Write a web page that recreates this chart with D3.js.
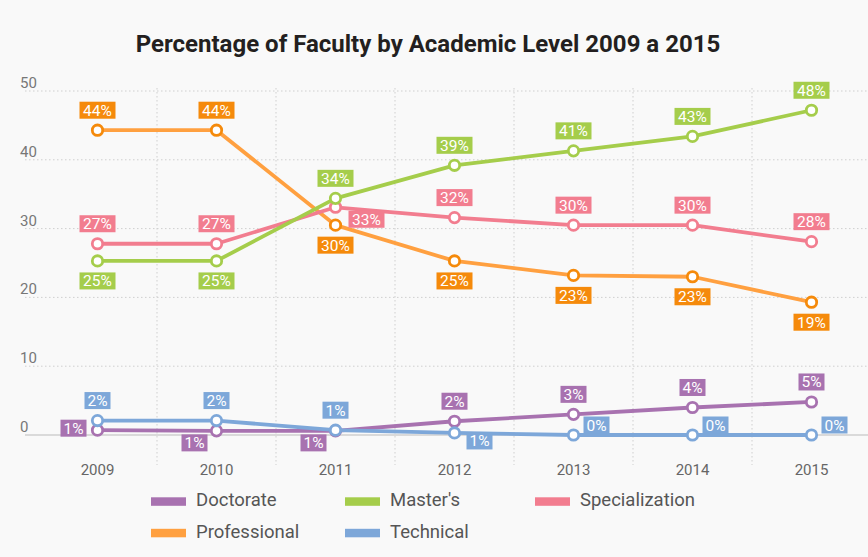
<!DOCTYPE html>
<html><head><meta charset="utf-8">
<script src="https://cdn.jsdelivr.net/npm/d3@7"></script>
<style>
html,body{margin:0;padding:0;background:#f9f9f9;}
svg{display:block;}
</style></head>
<body>
<svg id="chart" width="868" height="557"></svg>
<script>
const years = ["2009","2010","2011","2012","2013","2014","2015"];
const yTicks = [0,10,20,30,40,50];
const seriesNames = ["Doctorate","Master's","Specialization","Professional","Technical"];
const doctorate      = [0.7, 0.6, 0.6, 2.0, 3.0, 4.0, 4.8];
const masters        = [25.3, 25.3, 34.4, 39.2, 41.3, 43.4, 47.2];
const specialization = [27.8, 27.8, 33.1, 31.6, 30.5, 30.5, 28.1];
const professional   = [44.3, 44.3, 30.5, 25.3, 23.2, 23.0, 19.3];
const technical      = [2.1, 2.1, 0.7, 0.3, 0.0, 0.0, 0.0];
const doctorateLabels      = ["1%","1%","1%","2%","3%","4%","5%"];
const mastersLabels        = ["25%","25%","34%","39%","41%","43%","48%"];
const specializationLabels = ["27%","27%","33%","32%","30%","30%","28%"];
const professionalLabels   = ["44%","44%","30%","25%","23%","23%","19%"];
const technicalLabels      = ["2%","2%","1%","1%","0%","0%","0%"];
// label placement (t=above, b=below, l=left, bl=below-left, br=below-right, tr=above-right, r=right)
const doctoratePos      = ["l","bl","bl","t","t","t","t"];
const mastersPos        = ["b","b","t","t","t","t","t"];
const specializationPos = ["t","t","r","t","t","t","t"];
const professionalPos   = ["t","t","b","b","b","b","b"];
const technicalPos      = ["t","t","t","br","tr","tr","tr"];

const series = [
  {name:"Doctorate", values:doctorate, labels:doctorateLabels, pos:doctoratePos, line:"#a872b0", mark:"#a872b0", box:"#a872b0"},
  {name:"Technical", values:technical, labels:technicalLabels, pos:technicalPos, line:"#7da7d9", mark:"#7da7d9", box:"#7da7d9"},
  {name:"Professional", values:professional, labels:professionalLabels, pos:professionalPos, line:"#ffa040", mark:"#f58a0b", box:"#f58a0b"},
  {name:"Specialization", values:specialization, labels:specializationLabels, pos:specializationPos, line:"#f27d8f", mark:"#f27d8f", box:"#f27d8f"},
  {name:"Master's", values:masters, labels:mastersLabels, pos:mastersPos, line:"#a5cd4b", mark:"#a5cd4b", box:"#a5cd4b"}
];
const legendColors = {"Doctorate":"#a872b0","Master's":"#a5cd4b","Specialization":"#f27d8f","Professional":"#ffa040","Technical":"#7da7d9"};

const svg = d3.select("#chart");
const font = "Roboto, 'DejaVu Sans', sans-serif";

const x = d3.scaleBand().domain(years).range([38, 871]);
const y = d3.scaleLinear().domain([0,50]).range([435, 91]);
const cx = d => x(d) + x.bandwidth()/2;

// title
svg.append("text").attr("x", 428).attr("y", 52).attr("text-anchor","middle")
  .attr("font-family", font).attr("font-weight","bold").attr("font-size", 24)
  .attr("fill","#231f20").text("Percentage of Faculty by Academic Level 2009 a 2015");

// horizontal gridlines
const g = svg.append("g");
yTicks.forEach(t => {
  g.append("line").attr("x1",25).attr("x2",868).attr("y1",y(t)).attr("y2",y(t))
   .attr("stroke", "#cfcfcf").attr("stroke-width", t===0?1.5:1)
   .attr("stroke-dasharray", t===0 ? null : "1.5,2.5");
  g.append("text").attr("x",20).attr("y",y(t)-3).attr("font-family",font)
   .attr("font-size",15).attr("fill","#777").text(t);
});
// vertical gridlines at band boundaries
years.slice(1).forEach(yr => {
  g.append("line").attr("x1",x(yr)).attr("x2",x(yr)).attr("y1",88).attr("y2",465)
   .attr("stroke","#cfcfcf").attr("stroke-dasharray","1.5,2.5");
});
// x labels
years.forEach(yr => {
  g.append("text").attr("x",cx(yr)).attr("y",475).attr("text-anchor","middle")
   .attr("font-family",font).attr("font-size",15).attr("fill","#666").text(yr);
});

const lineGen = d3.line().x((d,i)=>cx(years[i])).y(d=>y(d));
const lines = svg.append("g");
series.forEach(s => {
  lines.append("path").attr("d", lineGen(s.values)).attr("fill","none")
    .attr("stroke", s.line).attr("stroke-width",3.8).attr("stroke-linejoin","round");
});
const marks = svg.append("g");
series.forEach(s => {
  s.values.forEach((v,i) => {
    marks.append("circle").attr("cx",cx(years[i])).attr("cy",y(v)).attr("r",5.2)
      .attr("fill","#fff").attr("stroke",s.mark).attr("stroke-width",2.8);
  });
});
const offsets = {t:[0,-20], b:[0,20], l:[-24,-2], bl:[-22,12], br:[25,8], tr:[23,-10], r:[31,12]};
const labs = svg.append("g");
series.forEach(s => {
  s.values.forEach((v,i) => {
    const o = offsets[s.pos[i]];
    const lx = cx(years[i]) + o[0], ly = y(v) + o[1];
    const w = s.labels[i].length === 2 ? 26 : 36;
    labs.append("rect").attr("x", lx - w/2).attr("y", ly - 8.5).attr("width", w).attr("height", 17)
      .attr("fill", s.box);
    labs.append("text").attr("x", lx).attr("y", ly + 5.5).attr("text-anchor","middle")
      .attr("font-family", font).attr("font-size", 15.5).attr("fill","#fff").text(s.labels[i]);
  });
});

// legend
const legendPos = [[151,501.5],[345,501.5],[535,501.5],[151,533],[345,533]];
seriesNames.forEach((n,i) => {
  const [lx,ly] = legendPos[i];
  svg.append("rect").attr("x",lx).attr("y",ly-4.2).attr("width",35).attr("height",8.5).attr("fill",legendColors[n]);
  svg.append("text").attr("x",lx+45).attr("y",ly+4.5).attr("font-family",font)
    .attr("font-size",18.5).attr("fill","#555").text(n);
});
</script>
</body></html>
